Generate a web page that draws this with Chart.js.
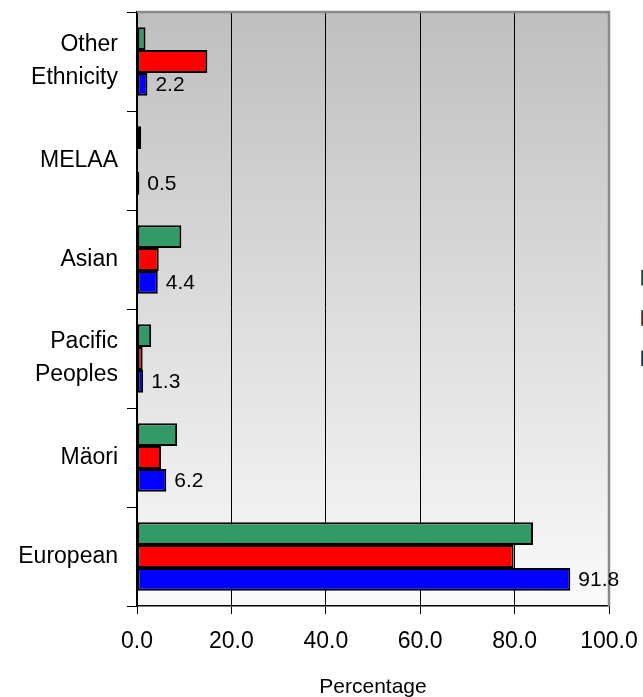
<!DOCTYPE html>
<html><head><meta charset="utf-8">
<script src="https://cdn.jsdelivr.net/npm/chart.js@4.4.1/dist/chart.umd.min.js"></script>
<style>html,body{margin:0;padding:0;background:#fff;overflow:hidden}</style>
</head><body>
<canvas id="c" width="643" height="697" style="width:643px;height:697px;display:block"></canvas>
<script>
const categories = [['Other', 'Ethnicity'], 'MELAA', 'Asian', ['Pacific', 'Peoples'], 'Mäori', 'European'];
const seriesNames = ['Series 1', 'Series 2', 'Series 3'];
const greenValues = [1.8, 0.9, 9.4, 3.0, 8.5, 83.9];
const redValues = [14.9, 0, 4.6, 1.2, 5.1, 79.8];
const blueValues = [2.2, 0.5, 4.4, 1.3, 6.2, 91.8];
const xTickValues = [0, 20, 40, 60, 80, 100];
const axisTitle = 'Percentage';

const FONT = "'Liberation Sans', Arial, Helvetica, sans-serif";
const colors = ['#339966', '#FF0000', '#0000FF'];

function noPad(axis) {
  axis.paddingLeft = 0; axis.paddingRight = 0;
  axis.paddingTop = 0; axis.paddingBottom = 0;
}

const bgPlugin = {
  id: 'bg',
  beforeDraw(chart) {
    const {ctx, chartArea: a} = chart;
    const g = ctx.createLinearGradient(0, a.top, 0, a.bottom);
    g.addColorStop(0, '#bfbfbf');
    g.addColorStop(1, '#fafafa');
    ctx.save();
    ctx.fillStyle = g;
    ctx.fillRect(a.left, a.top, a.right - a.left, a.bottom - a.top);
    ctx.restore();
  },
  beforeDatasetsDraw(chart) {
    const {ctx, chartArea: a} = chart;
    ctx.save();
    ctx.strokeStyle = '#8a8a8a';
    ctx.lineWidth = 2.5;
    ctx.beginPath();
    ctx.moveTo(a.left, a.top);
    ctx.lineTo(a.right, a.top);
    ctx.lineTo(a.right, a.bottom);
    ctx.stroke();
    ctx.restore();
  }
};

const labelPlugin = {
  id: 'vals',
  afterDatasetsDraw(chart) {
    const {ctx} = chart;
    const meta = chart.getDatasetMeta(2);
    ctx.save();
    ctx.font = '21px ' + FONT;
    ctx.fillStyle = '#000';
    ctx.textAlign = 'left';
    ctx.textBaseline = 'middle';
    meta.data.forEach((el, i) => {
      ctx.fillText(blueValues[i].toFixed(1), el.x + 8, el.y + 1);
    });
    ctx.restore();
  }
};

const legendPlugin = {
  id: 'legendStub',
  afterDraw(chart) {
    const {ctx, chartArea: a} = chart;
    const cy = (a.top + a.bottom) / 2 + 9;
    ctx.save();
    chart.data.datasets.forEach((ds, i) => {
      const y = cy + (i - 1) * 40.3 - 7;
      ctx.fillStyle = ds.backgroundColor;
      ctx.fillRect(a.right + 33, y, 14, 14);
      ctx.strokeStyle = '#333';
      ctx.lineWidth = 1.5;
      ctx.strokeRect(a.right + 33, y, 14, 14);
    });
    ctx.restore();
  }
};

new Chart(document.getElementById('c'), {
  type: 'bar',
  data: {
    labels: categories,
    datasets: [
      {label: seriesNames[0], data: greenValues, backgroundColor: colors[0]},
      {label: seriesNames[1], data: redValues, backgroundColor: colors[1]},
      {label: seriesNames[2], data: blueValues, backgroundColor: colors[2]}
    ]
  },
  options: {
    indexAxis: 'y',
    responsive: false,
    animation: false,
    devicePixelRatio: 1,
    datasets: {
      bar: {
        borderColor: '#000',
        borderWidth: 2,
        borderSkipped: false,
        barPercentage: 1,
        categoryPercentage: 0.69
      }
    },
    layout: {padding: {top: 12, right: 34, left: 0, bottom: 0}},
    plugins: {legend: {display: false}, tooltip: {enabled: false}},
    scales: {
      x: {
        min: 0, max: 100,
        afterBuildTicks(axis) { axis.ticks = xTickValues.map(v => ({value: v})); },
        afterFit(axis) { axis.height = 91; noPad(axis); },
        border: {display: true, color: '#000', width: 1.5},
        grid: {
          color: ctx => (ctx.tick && ctx.tick.value === 100) ? 'rgba(0,0,0,0)' : '#000',
          tickColor: '#000',
          lineWidth: 1,
          tickLength: 8,
          drawTicks: true
        },
        ticks: {
          color: '#000',
          font: {family: FONT, size: 23},
          padding: 14,
          maxRotation: 0,
          callback: v => Number(v).toFixed(1)
        },
        title: {
          display: true, text: axisTitle, color: '#000',
          font: {family: FONT, size: 21, lineHeight: 0.95},
          padding: {top: 0, bottom: 0}
        }
      },
      y: {
        afterFit(axis) { axis.width = 137; noPad(axis); },
        border: {display: true, color: '#000', width: 1.5},
        grid: {
          offset: true,
          drawOnChartArea: false,
          drawTicks: true,
          tickLength: 10,
          color: '#000',
          tickColor: '#000',
          lineWidth: 1
        },
        ticks: {
          color: '#000',
          font: {family: FONT, size: 23, lineHeight: 1.43},
          padding: 9
        }
      }
    }
  },
  plugins: [bgPlugin, labelPlugin, legendPlugin]
});
</script>
</body></html>
